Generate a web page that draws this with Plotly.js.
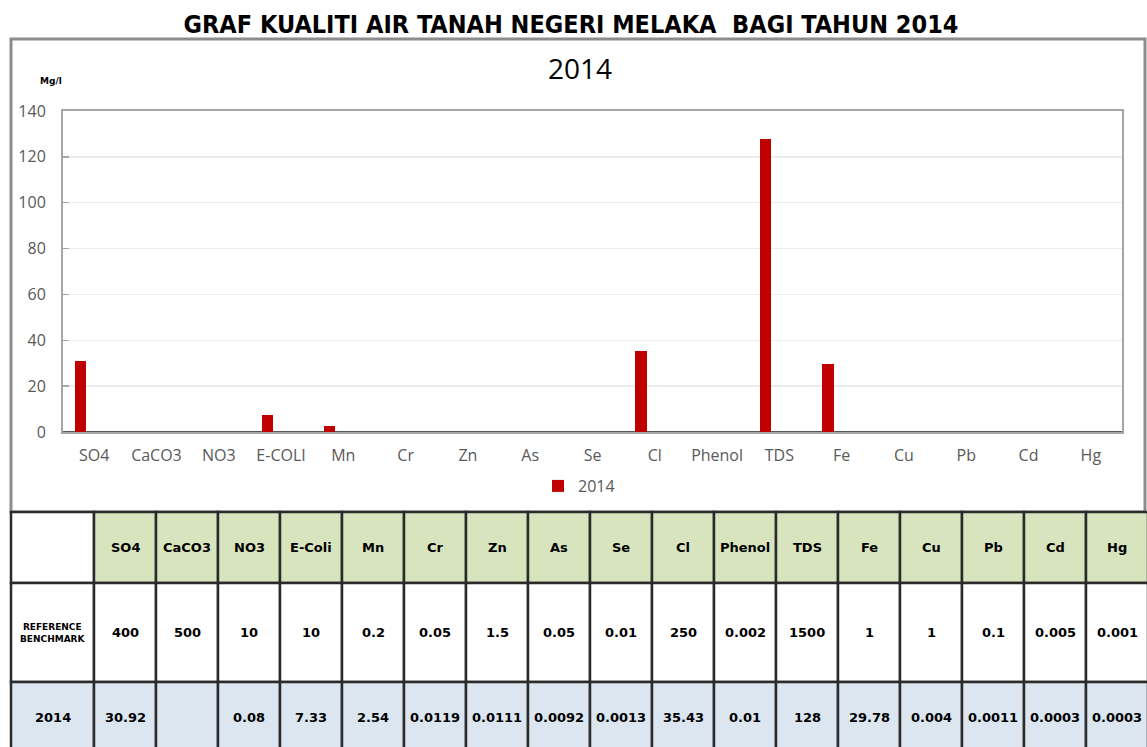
<!DOCTYPE html>
<html><head><meta charset="utf-8">
<script src="https://cdn.plot.ly/plotly-3.0.1.min.js"></script>
<style>html,body{margin:0;padding:0;background:#fff;overflow:hidden;} #chart{width:1147px;height:747px;}</style>
</head><body><div id="chart"></div>
<script>
// ---- data ----
const categories = ["SO4","CaCO3","NO3","E-COLI","Mn","Cr","Zn","As","Se","Cl","Phenol","TDS","Fe","Cu","Pb","Cd","Hg"];
const tableHeaders = ["SO4","CaCO3","NO3","E-Coli","Mn","Cr","Zn","As","Se","Cl","Phenol","TDS","Fe","Cu","Pb","Cd","Hg"];
const values2014 = [30.92, null, 0.08, 7.33, 2.54, 0.0119, 0.0111, 0.0092, 0.0013, 35.43, 0.01, 128, 29.78, 0.004, 0.0011, 0.0003, 0.0003];
const benchmark = [400, 500, 10, 10, 0.2, 0.05, 1.5, 0.05, 0.01, 250, 0.002, 1500, 1, 1, 0.1, 0.005, 0.001];
const seriesName = "2014";
const rowLabels = ["REFERENCE<br>BENCHMARK", "2014"];
const mainTitle = "GRAF KUALITI AIR TANAH NEGERI MELAKA&nbsp;&nbsp;BAGI TAHUN 2014";
const chartTitle = "2014";
const unitLabel = "Mg/l";

// ---- layout helpers ----
const W = 1147, H = 747;
const px = x => x / W;
const py = y => 1 - y / H;

const shapes = [];
const annotations = [];

// outer chart box
shapes.push({type:'rect', xref:'paper', yref:'paper', x0:px(11), x1:px(1145), y0:py(512), y1:py(39),
  line:{color:'#8c8c8c', width:3}, fillcolor:'rgba(0,0,0,0)', layer:'below'});

// table geometry
const tLeft = 11, firstW = 83, colW = 62;
const rowEdges = [512, 583, 682, 752];
const cellFont = {family:'DejaVu Sans, Verdana, sans-serif', size:13, color:'#000', weight:'bold'};
const green = '#D7E4BD', blue = '#DCE6F1';
const borderLine = {color:'#2b2b2b', width:2.5};

function colBounds(i){ // i = -1 for label column
  if (i < 0) return [tLeft, tLeft + firstW];
  const x0 = tLeft + firstW + i * colW;
  return [x0, x0 + colW];
}
function addCell(i, r, fill, text, font){
  const [x0, x1] = colBounds(i);
  const y0 = rowEdges[r], y1 = rowEdges[r+1];
  shapes.push({type:'rect', xref:'paper', yref:'paper', x0:px(x0), x1:px(x1), y0:py(y1), y1:py(y0),
    fillcolor:fill, line:borderLine, layer:'above'});
  if (text !== '') {
    annotations.push({xref:'paper', yref:'paper', x:px((x0+x1)/2), y:py((y0+y1)/2),
      text:'<b>'+text+'</b>', showarrow:false, xanchor:'center', yanchor:'middle', font:font || cellFont});
  }
}
// header row
addCell(-1, 0, '#FFFFFF', '');
tableHeaders.forEach((h, i) => addCell(i, 0, green, h));
// benchmark row
addCell(-1, 1, '#FFFFFF', rowLabels[0], {family:'DejaVu Sans, sans-serif', size:9, color:'#000', weight:'bold'});
benchmark.forEach((v, i) => addCell(i, 1, '#FFFFFF', String(v)));
// 2014 row
addCell(-1, 2, blue, rowLabels[1]);
values2014.forEach((v, i) => addCell(i, 2, blue, v === null ? '' : String(v)));

// chart subtitle and unit
annotations.push({xref:'paper', yref:'paper', x:px(580), y:py(68), text:chartTitle, showarrow:false,
  xanchor:'center', yanchor:'middle', font:{family:'Open Sans, sans-serif', size:28, color:'#000'}});
annotations.push({xref:'paper', yref:'paper', x:px(51), y:py(81), text:'<b>'+unitLabel+'</b>', showarrow:false,
  xanchor:'center', yanchor:'middle', font:{family:'DejaVu Sans, sans-serif', size:9, color:'#000'}});

const trace = {
  type:'bar', x:categories, y:values2014, name:seriesName,
  marker:{color:'#C00000'}, width:0.18, offset:-0.31,
  hoverinfo:'x+y'
};

const axisFont = {family:'Open Sans, sans-serif', size:16, color:'#595959'};
const layout = {
  width:W, height:H,
  margin:{l:0, r:0, t:0, b:0},
  paper_bgcolor:'#fff', plot_bgcolor:'#fff',
  title:{text:'<b>'+mainTitle+'</b>', x:px(571), y:py(24), xanchor:'center', yanchor:'middle',
    font:{family:'DejaVu Sans Condensed, Liberation Sans Narrow, sans-serif', size:25, color:'#000'}},
  xaxis:{domain:[px(63), px(1122)], type:'category', range:[-0.5, categories.length-0.5],
    showline:true, mirror:true, linecolor:'#a6a6a6', linewidth:2, ticks:'', showgrid:false,
    tickfont:axisFont, ticklabelstandoff:8, fixedrange:true},
  yaxis:{domain:[py(432), py(111)], range:[0,140], dtick:20, tick0:0,
    showline:true, mirror:true, linecolor:'#a6a6a6', linewidth:2,
    ticks:'inside', ticklen:6, tickcolor:'#a6a6a6', tickwidth:1.5,
    gridcolor:'#ececec', gridwidth:1.5,
    zeroline:true, zerolinecolor:'#595959', zerolinewidth:2,
    tickfont:axisFont, ticklabelstandoff:12, fixedrange:true},
  showlegend:true,
  legend:{orientation:'h', x:px(579), y:py(486), xanchor:'center', yanchor:'middle',
    font:axisFont, bgcolor:'rgba(0,0,0,0)', itemwidth:30},
  shapes:shapes, annotations:annotations,
  bargap:0
};
Plotly.newPlot('chart', [trace], layout, {displayModeBar:false, staticPlot:true});
</script>
</body></html>
